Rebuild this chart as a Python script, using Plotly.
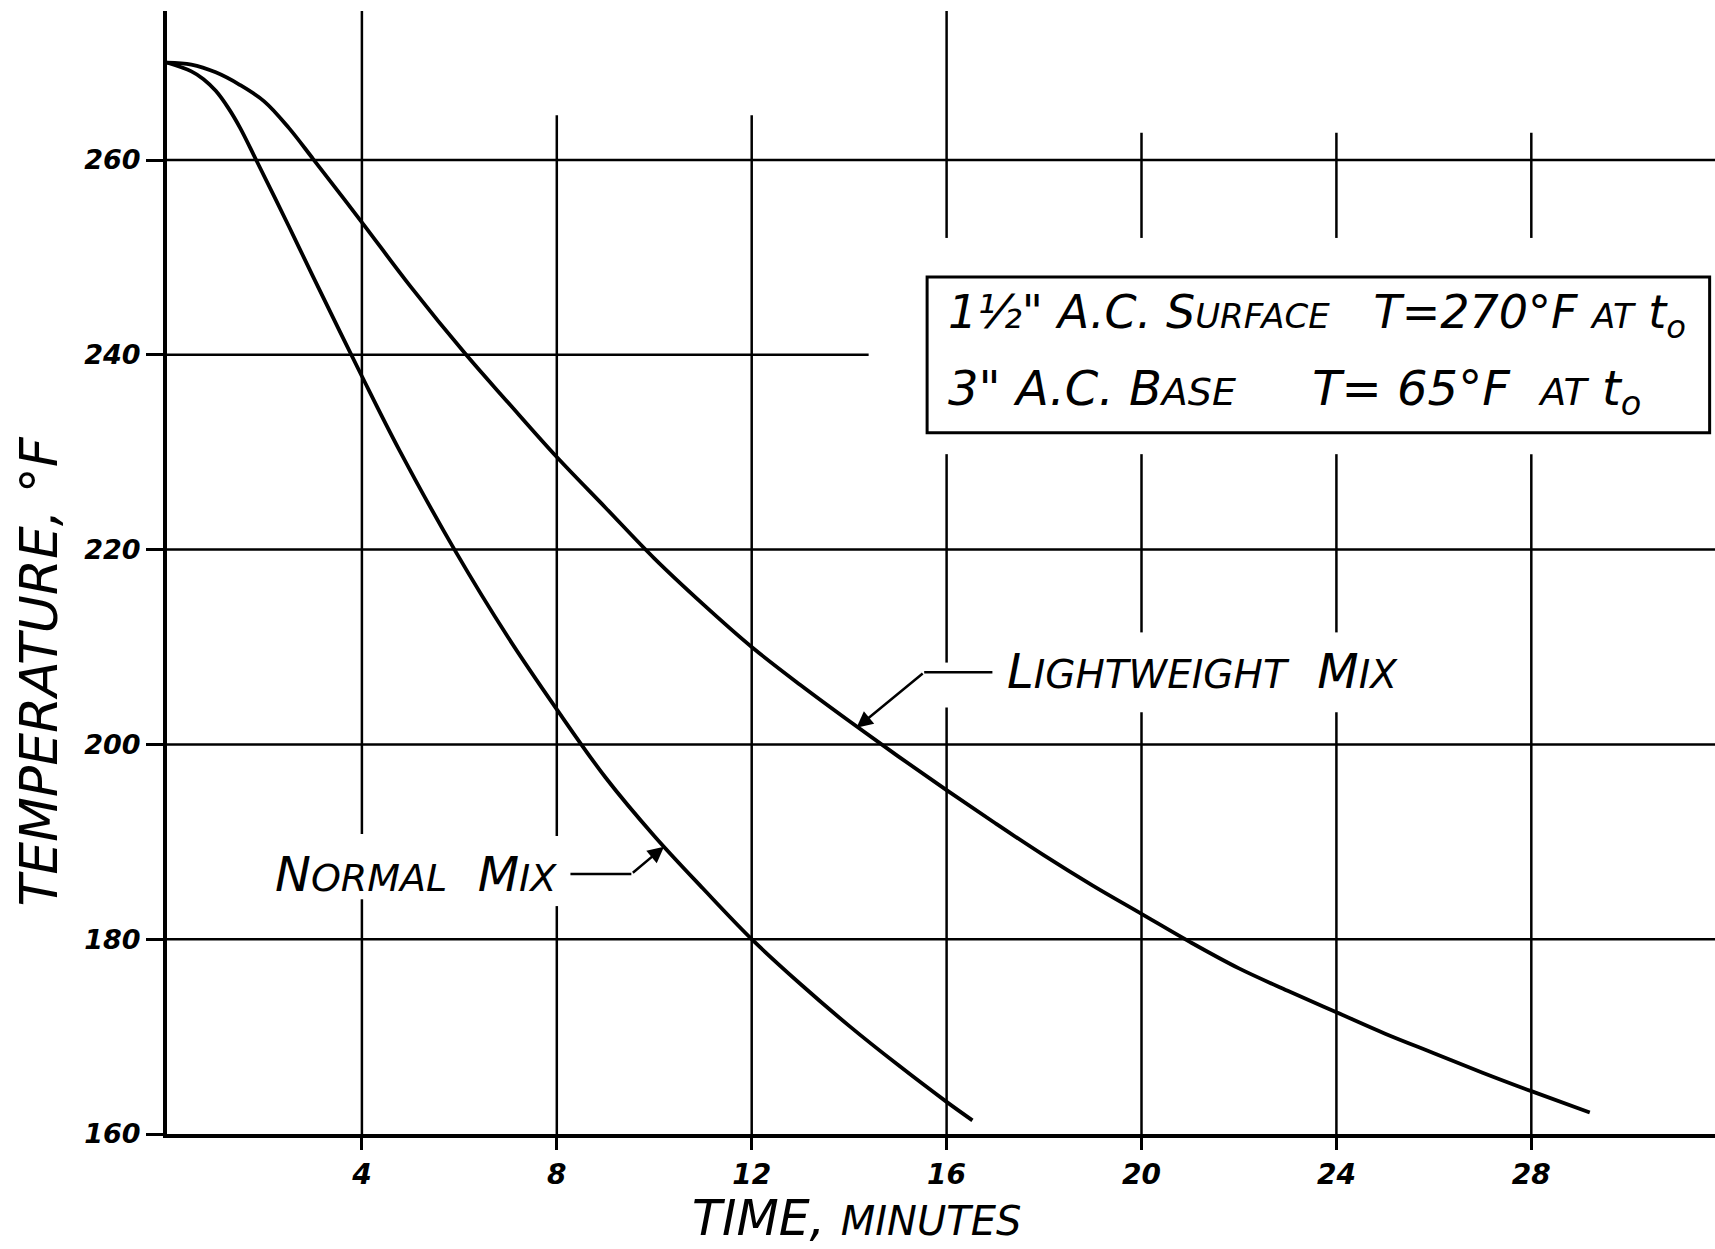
import plotly.graph_objects as go

# ---------------- data ----------------
normal_t = [0, 0.5, 0.75, 1.0, 1.25, 1.5, 1.83, 2.5, 3.0, 4.0, 4.76, 5.9, 7.0, 8.0, 9.0, 10.0, 11.0, 12.0, 13.0, 14.0, 15.0, 16.0, 16.53]
normal_T = [270, 269.1, 268.3, 267.1, 265.4, 263.3, 260, 253.2, 248.0, 237.8, 230.3, 220, 211, 203.6, 196.6, 190.6, 185.2, 180, 175.4, 171.1, 167.1, 163.3, 161.4]

light_t = [0, 0.5, 1.0, 1.5, 2.0, 2.5, 3.0, 4.0, 5.0, 6.14, 7.0, 8.0, 9.0, 10.0, 11.0, 12.0, 13.0, 14.0, 15.0, 16.0, 17.0, 18.0, 19.0, 20.0, 21.0, 22.0, 23.0, 24.0, 25.0, 26.0, 27.0, 28.0, 29.2]
light_T = [270, 269.8, 269.0, 267.7, 266.0, 263.3, 260.1, 253.6, 247.0, 240, 235.1, 229.5, 224.3, 219.1, 214.4, 210, 206.1, 202.4, 198.8, 195.3, 191.9, 188.6, 185.5, 182.6, 179.7, 177.0, 174.7, 172.5, 170.3, 168.3, 166.3, 164.4, 162.2]

x_ticks = [4, 8, 12, 16, 20, 24, 28]
y_ticks = [160, 180, 200, 220, 240, 260]

x_range = [0, 31.77]
y_range = [160, 275.3]

FONT = "DejaVu Sans"
BLACK = "#000000"

fig = go.Figure()
for t, T in [(normal_t, normal_T), (light_t, light_T)]:
    fig.add_trace(go.Scatter(x=t, y=T, mode="lines",
                             line=dict(color=BLACK, width=3.8, shape="spline", smoothing=1.0),
                             hoverinfo="skip", showlegend=False))

shapes = []
def vseg(x, y0, y1):
    shapes.append(dict(type="line", xref="x", yref="y", x0=x, x1=x, y0=y0, y1=y1,
                       line=dict(color=BLACK, width=2.5), layer="below"))
def hseg(y, x0, x1, w=2.5):
    shapes.append(dict(type="line", xref="x", yref="y", x0=x0, x1=x1, y0=y, y1=y,
                       line=dict(color=BLACK, width=w), layer="below"))

# vertical grid segments (gaps around labels and the box)
vgaps = {
    4: [(160, 184.1), (190.8, y_range[1])],
    8: [(160, 183.4), (190.6, 264.6)],
    12: [(160, 264.6)],
    16: [(160, 203.8), (208.4, 229.8), (252, y_range[1])],
    20: [(160, 203.3), (211.5, 229.8), (252, 262.8)],
    24: [(160, 203.3), (211.5, 229.8), (252, 262.8)],
    28: [(160, 229.8), (252, 262.8)],
}
for xv in x_ticks:
    for a, b in vgaps[xv]:
        vseg(xv, a, b)

# horizontal grid
for yv in y_ticks[1:]:
    if yv == 240:
        hseg(yv, 0, 14.4)
    else:
        hseg(yv, 0, x_range[1])

# legend box
box_x0, box_x1, box_y0, box_y1 = 15.6, 31.66, 232.0, 248.0
shapes.append(dict(type="rect", xref="x", yref="y", x0=box_x0, x1=box_x1, y0=box_y0, y1=box_y1,
                   line=dict(color=BLACK, width=3), fillcolor="white"))
hseg(240, box_x0, box_x1, w=3)

# leader lines
hseg(186.7, 8.28, 9.53, w=2.5)
hseg(207.4, 15.54, 16.94, w=2.5)

def sc(s, size):
    return "<span style='font-size:%dpx'>%s</span>" % (size, s)

nb = "\u00a0"
annotations = [
    # arrows
    dict(x=10.2, y=189.5, ax=9.53, ay=186.7, xref="x", yref="y", axref="x", ayref="y",
         text="", showarrow=True, arrowhead=2, arrowsize=1.3, arrowwidth=2.5, arrowcolor=BLACK),
    dict(x=14.15, y=201.7, ax=15.54, ay=207.4, xref="x", yref="y", axref="x", ayref="y",
         text="", showarrow=True, arrowhead=2, arrowsize=1.3, arrowwidth=2.5, arrowcolor=BLACK),
    # curve labels
    dict(x=8.05, y=186.7, xref="x", yref="y", xanchor="right", yanchor="middle", showarrow=False,
         text="N" + sc("ORMAL", 38) + nb + nb + "M" + sc("IX", 38),
         font=dict(family=FONT, size=48, color=BLACK, style="italic")),
    dict(x=17.2, y=207.5, xref="x", yref="y", xanchor="left", yanchor="middle", showarrow=False,
         text="L" + sc("IGHTWEIGHT", 39) + nb + nb + "M" + sc("IX", 39),
         font=dict(family=FONT, size=48, color=BLACK, style="italic")),
    # box text
    dict(x=15.98, y=244.0, xref="x", yref="y", xanchor="left", yanchor="middle", showarrow=False,
         text="1½\" A.C. S" + sc("URFACE", 34) + nb * 3 + "T=270°F " + sc("AT", 34) + " t<sub>o</sub>",
         font=dict(family=FONT, size=46, color=BLACK, style="italic")),
    dict(x=15.98, y=236.2, xref="x", yref="y", xanchor="left", yanchor="middle", showarrow=False,
         text="3\" A.C. B" + sc("ASE", 38) + nb * 5 + "T= 65°F" + nb * 2 + sc("AT", 38) + " t<sub>o</sub>",
         font=dict(family=FONT, size=48, color=BLACK, style="italic")),
    # axis titles
    dict(x=14.15, y=-0.0748, xref="x", yref="paper", xanchor="center", yanchor="middle", showarrow=False,
         text="TIME, " + sc("MINUTES", 40),
         font=dict(family=FONT, size=49, color=BLACK, style="italic")),
    dict(x=-0.0825, y=0.412, xref="paper", yref="paper", xanchor="center", yanchor="middle", showarrow=False,
         text="TEMPERATURE, °F", textangle=-90,
         font=dict(family=FONT, size=52, color=BLACK, style="italic")),
]

fig.update_layout(
    width=1715, height=1249,
    margin=dict(l=167, r=0, t=11, b=115),
    paper_bgcolor="white", plot_bgcolor="white",
    shapes=shapes, annotations=annotations,
    showlegend=False,
    xaxis=dict(range=x_range, tickvals=x_ticks, ticktext=[str(v) for v in x_ticks],
               showgrid=False, zeroline=False, showline=True, linecolor=BLACK, linewidth=4,
               ticks="outside", ticklen=12, tickwidth=2.5, tickcolor=BLACK,
               tickfont=dict(family=FONT, size=28, color=BLACK, style="italic", weight="bold")),
    yaxis=dict(range=y_range, tickvals=y_ticks, ticktext=[str(v) for v in y_ticks],
               showgrid=False, zeroline=False, showline=True, linecolor=BLACK, linewidth=4,
               ticks="outside", ticklen=17, tickwidth=2.5, tickcolor=BLACK,
               tickfont=dict(family=FONT, size=27, color=BLACK, style="italic", weight="bold")),
)

fig.write_html("out.html", config={"displayModeBar": False},
               post_script="document.body.style.margin='0px';document.body.style.overflow='hidden';")
